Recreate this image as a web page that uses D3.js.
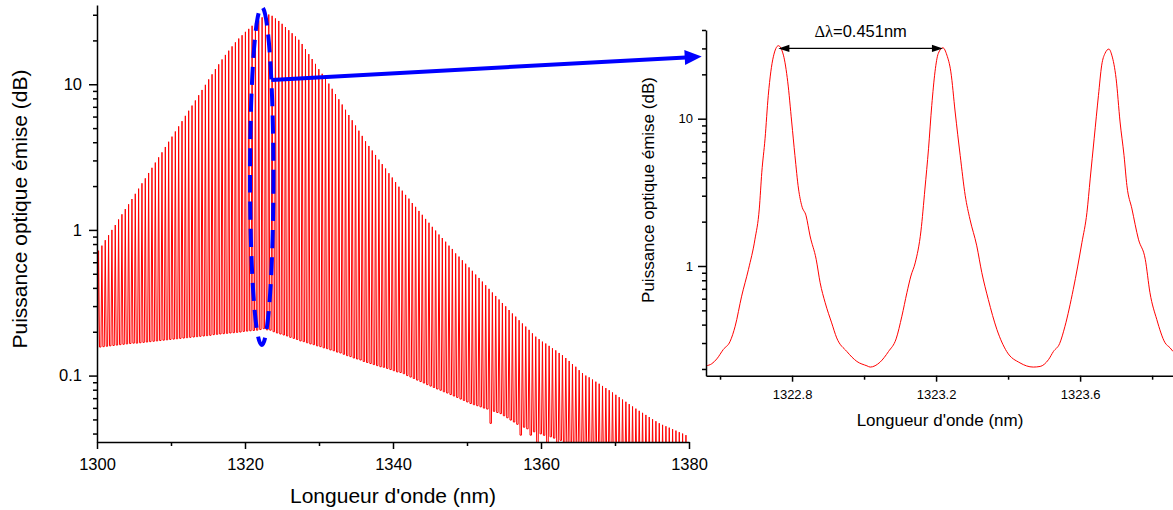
<!DOCTYPE html>
<html><head><meta charset="utf-8">
<script src="https://cdn.jsdelivr.net/npm/d3@7"></script>
<style>body{margin:0;background:#fff}svg{display:block}</style>
</head><body>
<svg id="chart" width="1173" height="510"></svg>
<script>
// ---------- data ----------
const modeSpacing = 0.451;      // nm (Δλ annotated on the chart)
const firstMode = 1300.212;     // nm, first longitudinal mode in the window
const peakPower = [
0.72,0.78,0.85,0.92,1.00,1.08,1.18,1.28,1.39,1.50,
1.63,1.77,1.92,2.09,2.26,2.46,2.67,2.90,3.15,3.41,
3.71,4.03,4.37,4.74,5.14,5.58,6.07,6.58,7.14,7.74,
8.41,9.14,9.91,10.8,11.7,12.7,13.7,14.8,15.9,17.0,
18.2,19.4,20.6,21.7,22.9,24.0,25.2,26.3,27.4,28.8,
30.5,30.1,29.5,28.3,27.2,26.0,24.7,23.5,22.4,21.3,
20.2,18.9,17.4,16.1,14.9,13.8,12.7,11.8,10.9,10.1,
9.31,8.57,7.89,7.26,6.68,6.15,5.66,5.21,4.80,4.42,
4.06,3.77,3.51,3.27,3.04,2.83,2.64,2.45,2.29,2.13,
1.98,1.86,1.74,1.64,1.53,1.44,1.35,1.27,1.19,1.12,
1.05,0.99,0.93,0.88,0.83,0.78,0.74,0.69,0.656,0.619,
0.586,0.553,0.524,0.494,0.468,0.442,0.417,0.394,0.372,0.352,
0.333,0.315,0.299,0.282,0.267,0.254,0.240,0.228,0.217,0.206,
0.195,0.185,0.178,0.171,0.166,0.160,0.154,0.149,0.143,0.138,
0.132,0.126,0.120,0.115,0.109,0.104,0.100,0.0973,0.0940,0.0908,
0.0879,0.0849,0.0820,0.0794,0.0766,0.0738,0.0711,0.0685,0.0661,0.0637,
0.0614,0.0593,0.0573,0.0555,0.0537,0.0519,0.0502,0.0486,0.0471,0.0459,
0.0449,0.0439,0.0429,0.0419,0.0409,0.0400,0.0390];
const valleyPower = [
0.156,0.157,0.158,0.159,0.160,0.161,0.162,0.163,0.164,0.165,
0.166,0.167,0.167,0.168,0.169,0.170,0.171,0.172,0.173,0.174,
0.175,0.176,0.177,0.178,0.179,0.180,0.181,0.182,0.183,0.184,
0.185,0.186,0.187,0.188,0.189,0.191,0.192,0.193,0.194,0.195,
0.196,0.197,0.198,0.199,0.201,0.202,0.203,0.204,0.205,0.207,
0.210,0.206,0.205,0.200,0.196,0.193,0.190,0.187,0.183,0.180,0.177,0.173,
0.171,0.168,0.165,0.163,0.160,0.158,0.155,0.153,0.150,0.148,
0.145,0.143,0.140,0.137,0.135,0.132,0.130,0.128,0.125,0.123,
0.121,0.119,0.117,0.115,0.114,0.112,0.110,0.108,0.106,0.105,
0.103,0.100,0.0977,0.0955,0.0931,0.0910,0.0889,0.0867,0.0847,0.0828,
0.0809,0.0793,0.0774,0.0759,0.0741,0.0724,0.0708,0.0690,0.0675,0.0659,
0.0643,0.0631,0.0621,0.0610,0.0598,0.0589,0.047,0.0568,0.0558,0.0548,
0.0530,0.0513,0.0495,0.0480,0.0463,0.039,0.0442,0.0431,0.039,0.0411,
0.030,0.0398,0.0389,0.030,0.038,0.0372,0.030,0.0359,0.0347,0.033,
0.032,0.031,0.030,0.029,0.029,0.028,0.027,0.027,0.026,0.025,
0.025,0.024,0.024,0.023,0.023,0.022,0.022,0.021,0.021,0.020,
0.020,0.020,0.019,0.019,0.018,0.018,0.018,0.017,0.017,0.017,
0.016,0.016,0.016,0.015,0.015,0.015];
const mainXTicks = [1300,1320,1340,1360,1380];
const mainXMinor = [1310,1330,1350,1370];
const mainYTicks = [0.1,1,10];
const mainYTickLabels = ["0.1","1","10"];

const insetWl = [1322.561,1322.577,1322.591,1322.609,1322.628,1322.642,1322.660,1322.679,1322.697,1322.709,1322.716,1322.725,1322.734,1322.741,1322.748,1322.762,1322.776,1322.788,1322.799,1322.808,1322.818,1322.827,1322.839,1322.850,1322.867,1322.878,1322.892,1322.910,1322.924,1322.952,1322.980,1323.008,
1323.017,1323.044,1323.068,1323.089,1323.105,1323.119,1323.130,1323.142,1323.158,1323.169,1323.179,1323.188,1323.197,1323.206,1323.219,1323.230,1323.241,1323.253,1323.267,1323.281,1323.294,1323.313,1323.327,1323.345,1323.369,1323.396,1323.433,1323.470,
1323.489,1323.512,1323.526,1323.543,1323.558,1323.581,1323.605,1323.619,1323.628,1323.639,1323.651,1323.660,1323.669,1323.680,1323.688,1323.700,1323.711,1323.722,1323.730,1323.744,1323.762,1323.781,1323.794,1323.813,1323.836,1323.850,1323.858];
const insetPow = [0.210,0.217,0.234,0.271,0.308,0.390,0.624,0.950,1.52,2.44,4.33,7.31,14.4,20.8,26.3,31.3,27.0,17.8,9.50,5.62,3.33,2.56,2.19,1.60,1.11,0.770,0.563,0.411,0.325,0.263,0.225,0.210,
0.206,0.222,0.263,0.320,0.456,0.659,0.855,1.05,1.73,3.33,6.25,12.3,20.8,27.7,30.3,27.0,20.8,11.1,5.62,3.00,2.08,1.37,0.902,0.593,0.370,0.263,0.220,0.206,
0.208,0.231,0.263,0.297,0.390,0.694,1.44,2.31,3.90,7.31,14.4,23.1,27.7,29.7,27.0,18.7,9.50,5.62,3.51,2.44,1.52,1.11,0.659,0.433,0.301,0.278,0.263];
const insetXTicks = [1322.8,1323.2,1323.6];
const insetXMinor = [1322.6,1323.0,1323.4,1323.8];
const insetYTicks = [1,10];
const insetYTickLabels = ["1","10"];
const peakA = [1322.762, 30];   // annotated peaks (wavelength, power)
const peakB = [1323.219, 30];
const deltaText = "=0.451nm";
const yTitle = "Puissance optique émise (dB)";
const xTitle = "Longueur d'onde (nm)";

// ---------- drawing ----------
const FONT = "'Liberation Sans', Arial, Helvetica, sans-serif";
const svg = d3.select("#chart");

function styleAxis(g, fs, sw) {
  g.attr("font-family", FONT).attr("font-size", fs);
  g.select(".domain").attr("stroke", "#000").attr("stroke-width", sw);
  g.selectAll(".tick line").attr("stroke", "#000").attr("stroke-width", sw);
  g.selectAll(".tick text").attr("fill", "#000");
}

// ===== main chart =====
const mainX = d3.scaleLinear().domain([1300, 1380]).range([97, 689]);
const mainY = d3.scaleLog().domain([0.035, 35]).range([442, 5]);

svg.append("clipPath").attr("id", "clipMain").append("rect")
  .attr("x", mainX.range()[0]).attr("y", mainY.range()[1])
  .attr("width", mainX.range()[1] - mainX.range()[0])
  .attr("height", mainY.range()[0] - mainY.range()[1]);

const halfWidth = 0.13;
const comb = [];
comb.push([firstMode - modeSpacing / 2, valleyPower[0]]);
peakPower.forEach((p, i) => {
  const c = firstMode + i * modeSpacing;
  comb.push([c - halfWidth, valleyPower[i]]);
  comb.push([c, p]);
  comb.push([c + halfWidth, valleyPower[i + 1]]);
});
comb.push([firstMode + (peakPower.length - 0.5) * modeSpacing, valleyPower[peakPower.length]]);

svg.append("path").datum(comb)
  .attr("clip-path", "url(#clipMain)")
  .attr("fill", "none").attr("stroke", "#ff0000").attr("stroke-width", 1)
  .attr("d", d3.line().x(d => mainX(d[0])).y(d => mainY(d[1])));

// axes main
const mx = svg.append("g").attr("transform", `translate(0,${mainY.range()[0]})`)
  .call(d3.axisBottom(mainX).tickValues(mainXTicks).tickFormat(d3.format("d"))
    .tickSize(7).tickSizeOuter(0).tickPadding(9));
styleAxis(mx, 16.5, 1.5);
const mxm = svg.append("g").attr("transform", `translate(0,${mainY.range()[0]})`)
  .call(d3.axisBottom(mainX).tickValues(mainXMinor).tickFormat("").tickSize(4).tickSizeOuter(0));
mxm.select(".domain").remove(); styleAxis(mxm, 16.5, 1.5);

const my = svg.append("g").attr("transform", `translate(${mainX.range()[0]},0)`)
  .call(d3.axisLeft(mainY).tickValues(mainYTicks).tickFormat((d, i) => mainYTickLabels[i])
    .tickSize(8).tickSizeOuter(0).tickPadding(7));
styleAxis(my, 16.5, 1.5);
const mainMinorY = mainY.ticks().filter(v => !mainYTicks.some(m => Math.abs(m - v) / m < 1e-6));
const mym = svg.append("g").attr("transform", `translate(${mainX.range()[0]},0)`)
  .call(d3.axisLeft(mainY).tickValues(mainMinorY).tickFormat("").tickSize(4).tickSizeOuter(0));
mym.select(".domain").remove(); styleAxis(mym, 16.5, 1.5);

svg.append("text").attr("x", (mainX.range()[0] + mainX.range()[1]) / 2).attr("y", 503)
  .attr("text-anchor", "middle").attr("font-family", FONT).attr("font-size", 21).text(xTitle);
svg.append("text").attr("transform", "translate(27,209) rotate(-90)")
  .attr("text-anchor", "middle").attr("font-family", FONT).attr("font-size", 21).text(yTitle);

// ===== inset =====
const insetX = d3.scaleLinear().domain([1322.561, 1323.858]).range([706, 1173]);
const insetY = d3.scaleLog().domain([0.18, 40]).range([375.7, 30]);

svg.append("clipPath").attr("id", "clipInset").append("rect")
  .attr("x", insetX.range()[0]).attr("y", insetY.range()[1])
  .attr("width", insetX.range()[1] - insetX.range()[0])
  .attr("height", insetY.range()[0] - insetY.range()[1]);

const insetData = insetWl.map((w, i) => [w, insetPow[i]]);
svg.append("path").datum(insetData)
  .attr("clip-path", "url(#clipInset)")
  .attr("fill", "none").attr("stroke", "#ff0000").attr("stroke-width", 1)
  .attr("d", d3.line().x(d => insetX(d[0])).y(d => insetY(d[1])).curve(d3.curveMonotoneX));

const ix = svg.append("g").attr("transform", `translate(0,${insetY.range()[0]})`)
  .call(d3.axisBottom(insetX).tickValues(insetXTicks).tickFormat(d3.format(".1f"))
    .tickSize(6).tickSizeOuter(0).tickPadding(8));
styleAxis(ix, 13, 1.5);
const ixm = svg.append("g").attr("transform", `translate(0,${insetY.range()[0]})`)
  .call(d3.axisBottom(insetX).tickValues(insetXMinor).tickFormat("").tickSize(4).tickSizeOuter(0));
ixm.select(".domain").remove(); styleAxis(ixm, 13, 1.5);

const iy = svg.append("g").attr("transform", `translate(${insetX.range()[0]},0)`)
  .call(d3.axisLeft(insetY).tickValues(insetYTicks).tickFormat((d, i) => insetYTickLabels[i])
    .tickSize(8).tickSizeOuter(0).tickPadding(5));
styleAxis(iy, 13, 1.5);
const insetMinorY = insetY.ticks().filter(v => !insetYTicks.some(m => Math.abs(m - v) / m < 1e-6));
const iym = svg.append("g").attr("transform", `translate(${insetX.range()[0]},0)`)
  .call(d3.axisLeft(insetY).tickValues(insetMinorY).tickFormat("").tickSize(4).tickSizeOuter(0));
iym.select(".domain").remove(); styleAxis(iym, 13, 1.5);

svg.append("text").attr("x", 940).attr("y", 426)
  .attr("text-anchor", "middle").attr("font-family", FONT).attr("font-size", 17).text(xTitle);
svg.append("text").attr("transform", "translate(654,190) rotate(-90)")
  .attr("text-anchor", "middle").attr("font-family", FONT).attr("font-size", 17).text(yTitle);

// double arrow Δλ
const ax1 = insetX(peakA[0]), ax2 = insetX(peakB[0]), ay = insetY(peakA[1]);
const hl = 11, hh = 3.6;
svg.append("line").attr("x1", ax1 + hl - 1).attr("x2", ax2 - hl + 1).attr("y1", ay).attr("y2", ay)
  .attr("stroke", "#000").attr("stroke-width", 1.4);
svg.append("path").attr("fill", "#000")
  .attr("d", `M${ax1},${ay}L${ax1 + hl},${ay - hh}L${ax1 + hl},${ay + hh}Z`);
svg.append("path").attr("fill", "#000")
  .attr("d", `M${ax2},${ay}L${ax2 - hl},${ay - hh}L${ax2 - hl},${ay + hh}Z`);
const lab = svg.append("text").attr("x", (ax1 + ax2) / 2).attr("y", ay - 11.5)
  .attr("text-anchor", "middle").attr("font-family", FONT).attr("font-size", 16.5);
lab.append("tspan").attr("font-family", "'Liberation Serif', 'DejaVu Serif', serif").text("Δλ");
lab.append("tspan").text(deltaText);

// ===== blue highlight ellipse + connector arrow =====
const ecx = mainX(1322.26), erx = mainX(1322.26 + 1.58) - ecx;
const eTop = mainY(33.9), eBot = mainY(0.162);
const ecy = (eTop + eBot) / 2, ery = (eBot - eTop) / 2;
svg.append("ellipse").attr("cx", ecx).attr("cy", ecy).attr("rx", erx).attr("ry", ery)
  .attr("fill", "none").attr("stroke", "#0000ff").attr("stroke-width", 4)
  .attr("stroke-dasharray", "18,9");

const sy = mainY(10.7);
const sx = ecx + erx * Math.sqrt(Math.max(0, 1 - ((sy - ecy) / ery) ** 2));
const tx = insetX.range()[0] - 4.3, ty = insetY(26.4);
const dx = tx - sx, dy = ty - sy, L = Math.hypot(dx, dy), ux = dx / L, uy = dy / L;
const headL = 17, headW = 7.5;
const bx = tx - ux * headL, by = ty - uy * headL;
svg.append("line").attr("x1", sx).attr("y1", sy).attr("x2", bx + ux * 1).attr("y2", by + uy * 1)
  .attr("stroke", "#0000ff").attr("stroke-width", 4);
svg.append("path").attr("fill", "#0000ff")
  .attr("d", `M${tx},${ty}L${bx - uy * headW},${by + ux * headW}L${bx + uy * headW},${by - ux * headW}Z`);
</script>
</body></html>
